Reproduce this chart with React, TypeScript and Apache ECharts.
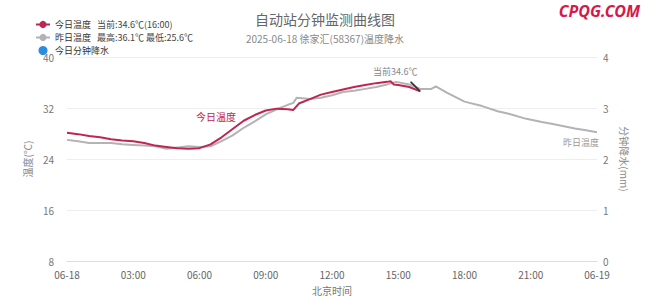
import React, { useEffect, useRef } from "react";
import * as echarts from "echarts";

const xTickLabels = ["06-18", "03:00", "06:00", "09:00", "12:00", "15:00", "18:00", "21:00", "06-19"];
const leftTicks = [8, 16, 24, 32, 40];
const rightTicks = [0, 1, 2, 3, 4];

const todayHours = [0, 0.5, 1, 1.5, 2, 2.5, 3, 3.5, 4, 4.5, 5, 5.5, 6, 6.5, 7, 7.5, 8, 8.5, 9, 9.5, 10, 10.25, 10.5, 11, 11.5, 12, 12.5, 13, 13.5, 14, 14.5, 14.65, 14.8, 15, 15.5, 16];
const todayTemp = [28.1, 27.9, 27.6, 27.4, 27.1, 26.9, 26.8, 26.5, 26.1, 25.9, 25.7, 25.6, 25.7, 26.3, 27.4, 28.7, 30.0, 30.9, 31.6, 31.9, 31.8, 31.7, 32.7, 33.4, 34.1, 34.5, 34.9, 35.3, 35.6, 35.9, 36.1, 36.2, 35.7, 35.6, 35.3, 34.6];

const yestHours = [0, 0.5, 1, 1.5, 2, 2.5, 3, 3.5, 4, 4.5, 5, 5.5, 6, 6.5, 7, 7.5, 8, 8.5, 9, 9.5, 10, 10.25, 10.4, 11, 11.5, 12, 12.5, 13, 13.5, 14, 14.5, 14.9, 15.5, 16, 16.5, 16.7, 17.2, 18, 18.8, 19.5, 20, 20.8, 21.5, 22, 23, 23.5, 24];
const yestTemp = [27.0, 26.8, 26.5, 26.5, 26.5, 26.3, 26.2, 26.1, 26.0, 25.6, 25.8, 26.0, 25.9, 26.0, 26.8, 27.7, 28.9, 29.9, 31.0, 31.8, 32.5, 32.8, 33.6, 33.4, 33.6, 34.0, 34.5, 34.7, 35.0, 35.3, 35.7, 36.1, 35.7, 35.0, 35.0, 35.4, 34.4, 33.0, 32.3, 31.5, 31.1, 30.3, 29.8, 29.5, 28.8, 28.5, 28.2];

const rainHours: number[] = [];
const rainValues: number[] = [];

const FONT = "'Noto Sans CJK SC', 'Noto Sans', sans-serif";

export default function App() {
  const ref = useRef<HTMLDivElement>(null);
  useEffect(() => {
    if (!ref.current) return;
    const chart = echarts.init(ref.current, undefined, { renderer: "svg" });
    const lastIdx = todayTemp.length - 1;
    const curTemp = todayTemp[lastIdx];
    const curHour = todayHours[lastIdx];
    const curTime = String(Math.floor(curHour)).padStart(2, "0") + ":" + String(Math.round((curHour % 1) * 60)).padStart(2, "0");
    const yMax = Math.max(...yestTemp);
    const yMin = Math.min(...yestTemp);
    const legendExtra: Record<string, string> = {
      "今日温度": "当前:" + curTemp.toFixed(1) + "℃(" + curTime + ")",
      "昨日温度": "最高:" + yMax.toFixed(1) + "℃ 最低:" + yMin.toFixed(1) + "℃",
      "今日分钟降水": "",
    };
    chart.setOption({
      animation: false,
      textStyle: { fontFamily: FONT },
      title: {
        text: "自动站分钟监测曲线图",
        subtext: "2025-06-18 徐家汇(58367)温度降水",
        left: "center",
        top: 7,
        itemGap: 8,
        textStyle: { fontSize: 14, fontWeight: "normal", color: "#666", fontFamily: FONT },
        subtextStyle: { fontSize: 10, color: "#888", fontFamily: FONT },
      },
      legend: {
        orient: "vertical",
        left: 30,
        top: 15,
        itemWidth: 14,
        itemHeight: 9,
        itemGap: 4,
        data: [
          { name: "今日温度" },
          { name: "昨日温度" },
          { name: "今日分钟降水", icon: "circle" },
        ],
        formatter: (name: string) =>
          legendExtra[name] ? "{a|" + name + "}{b|" + legendExtra[name] + "}" : name,
        textStyle: {
          fontSize: 9,
          color: "#333",
          fontFamily: FONT,
          rich: {
            a: { fontSize: 9, width: 42, color: "#333", fontFamily: FONT },
            b: { fontSize: 9, color: "#444", fontFamily: FONT },
          },
        },
      },
      grid: { left: 67, right: 53, top: 57, bottom: 35 },
      xAxis: {
        type: "value",
        min: 0,
        max: 24,
        interval: 3,
        name: "北京时间",
        nameLocation: "middle",
        nameGap: 24,
        nameTextStyle: { fontSize: 10, color: "#777" },
        axisLine: { lineStyle: { color: "#ddd" } },
        axisTick: { show: false },
        splitLine: { show: false },
        axisLabel: {
          fontSize: 10,
          color: "#666",
          margin: 8,
          lineHeight: 11,
          formatter: (v: number) => xTickLabels[Math.round(v / 3)] ?? "",
        },
      },
      yAxis: [
        {
          type: "value",
          min: leftTicks[0],
          max: leftTicks[leftTicks.length - 1],
          interval: 8,
          name: "温度(℃)",
          nameLocation: "middle",
          nameGap: 29,
          nameTextStyle: { fontSize: 10, color: "#888" },
          axisLine: { show: false },
          axisTick: { show: false },
          axisLabel: { fontSize: 10, color: "#777", margin: 13 },
          splitLine: { lineStyle: { color: "#eee" } },
        },
        {
          type: "value",
          min: rightTicks[0],
          max: rightTicks[rightTicks.length - 1],
          interval: 1,
          name: "分钟降水(mm)",
          nameLocation: "middle",
          nameRotate: -90,
          nameGap: 13,
          nameTextStyle: { fontSize: 10, color: "#888" },
          axisLine: { show: false },
          axisTick: { show: false },
          axisLabel: { fontSize: 10, color: "#777", margin: 6, lineHeight: 10 },
          splitLine: { show: false },
        },
      ],
      series: [
        {
          name: "昨日温度",
          type: "line",
          data: yestHours.map((h, i) => [h, yestTemp[i]]),
          symbol: "circle",
          symbolSize: 5,
          showSymbol: false,
          lineStyle: { color: "#b3b3b3", width: 2 },
          itemStyle: { color: "#b3b3b3" },
          endLabel: {
            show: true,
            formatter: "昨日温度",
            color: "#999",
            fontSize: 9,
            offset: [-42, 10],
          },
          z: 2,
        },
        {
          name: "今日温度",
          type: "line",
          data: todayHours.map((h, i) => [h, todayTemp[i]]),
          symbol: "circle",
          symbolSize: 5,
          showSymbol: false,
          lineStyle: { color: "#bf2550", width: 2 },
          itemStyle: { color: "#bf2550" },
          z: 3,
          markPoint: {
            symbol: "path://M0,0L1.2,0L10,8.8L10,10L8.8,10L0,1.2Z",
            symbolSize: [10, 10],
            symbolOffset: [-5, -5],
            itemStyle: { color: "#333" },
            label: {
              show: true,
              position: "top",
              offset: [-20, 0],
              formatter: "当前" + curTemp.toFixed(1) + "℃",
              color: "#888",
              fontSize: 9,
            },
            data: [{ coord: [curHour, curTemp] }],
          },
        },
        {
          name: "今日分钟降水",
          type: "bar",
          yAxisIndex: 1,
          data: rainHours.map((h, i) => [h, rainValues[i]]),
          itemStyle: { color: "#2a8ce3" },
        },
      ],
      graphic: [
        {
          type: "text",
          left: 196,
          top: 111,
          style: { text: "今日温度", fill: "#bf2550", fontSize: 10, fontFamily: FONT },
        },
        {
          type: "text",
          right: 10,
          top: 3,
          style: {
            text: "CPQG.COM",
            fill: "#d6194b",
            fontSize: 16,
            fontWeight: "bold",
            fontStyle: "italic",
            fontFamily: "'Noto Sans', sans-serif",
          },
        },
      ],
    });
    return () => chart.dispose();
  }, []);
  return <div ref={ref} style={{ width: 650, height: 300, position: "absolute", left: 0, top: 0 }} />;
}
